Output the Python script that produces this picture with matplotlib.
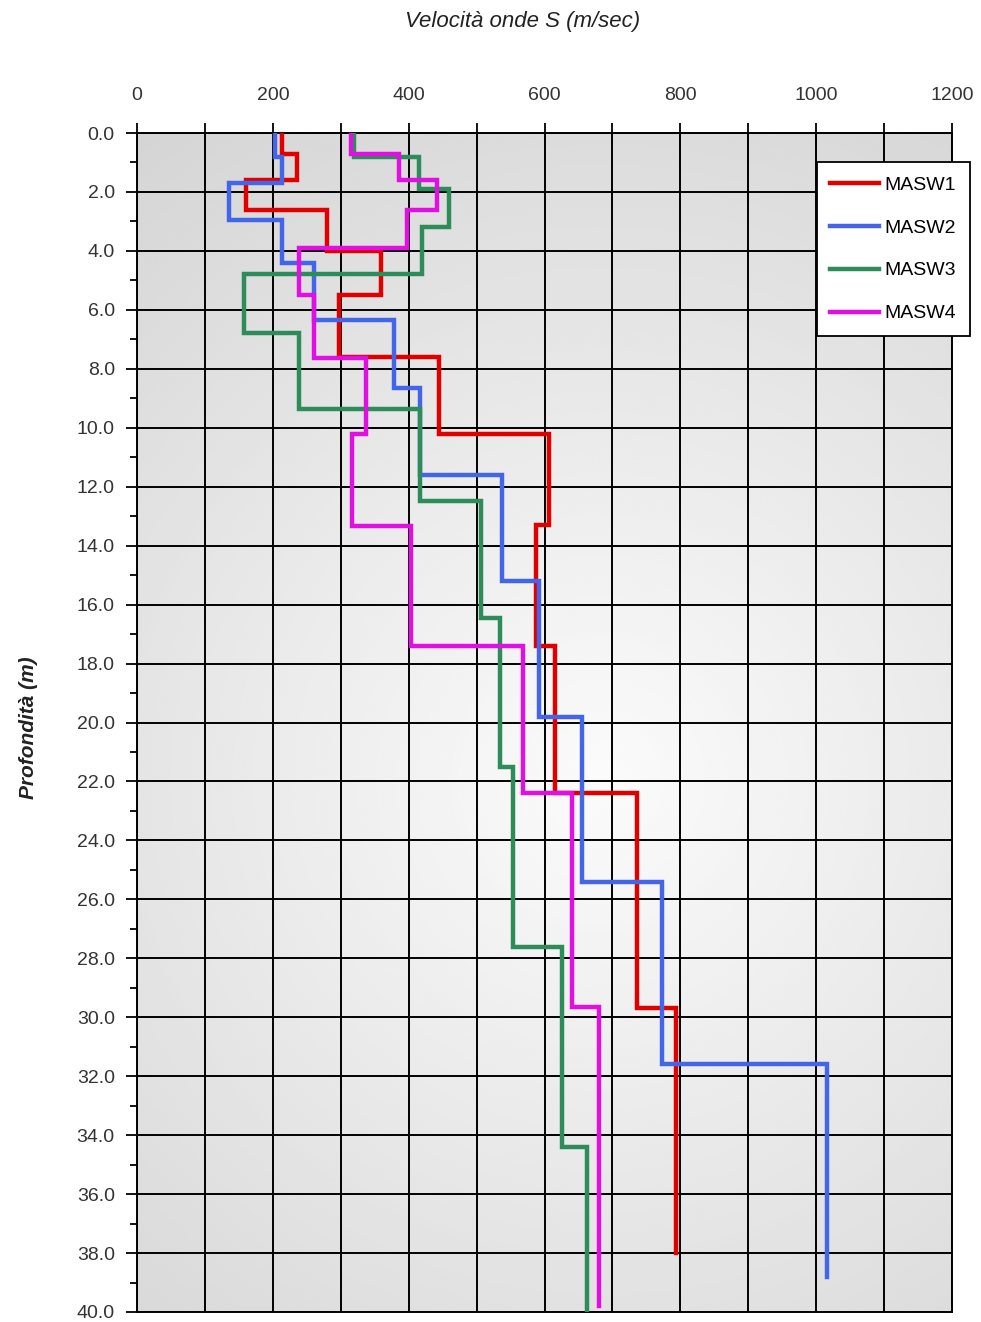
import numpy as np
import matplotlib
matplotlib.use("Agg")
import matplotlib.pyplot as plt
from matplotlib.ticker import MultipleLocator, FormatStrFormatter

plt.rcParams['font.family'] = ['Liberation Sans', 'DejaVu Sans']

# Shear-wave velocity profiles: layer boundaries (m) and layer velocities (m/s)
masw1_depth = [0.0, 0.7, 1.6, 2.6, 4.0, 5.5, 7.6, 10.2, 13.3, 17.4, 22.4, 29.7, 38.0]
masw1_vs = [214, 236, 160, 280, 359, 298, 445, 606, 587, 616, 736, 793]

masw2_depth = [0.0, 0.8, 1.7, 2.95, 4.4, 6.35, 8.65, 11.6, 15.2, 19.8, 25.4, 31.6, 38.8]
masw2_vs = [203, 213, 136, 214, 261, 378, 416, 538, 592, 655, 773, 1016]

masw3_depth = [0.0, 0.8, 1.9, 3.2, 4.8, 6.8, 9.35, 12.5, 16.45, 21.5, 27.6, 34.4, 40.0]
masw3_vs = [320, 415, 459, 420, 158, 239, 416, 506, 535, 554, 626, 663]

masw4_depth = [0.0, 0.7, 1.6, 2.6, 3.9, 5.5, 7.65, 10.2, 13.35, 17.4, 22.4, 29.65, 39.8]
masw4_vs = [315, 386, 441, 398, 239, 261, 337, 316, 404, 568, 640, 680]

series_names = ["MASW1", "MASW2", "MASW3", "MASW4"]
series_colors = ["#e00000", "#4466e6", "#2e8b5a", "#e010e0"]

x_ticks = [0, 200, 400, 600, 800, 1000, 1200]
y_ticks = np.arange(0, 41, 2)

fig = plt.figure(figsize=(9.81, 13.22), dpi=100)
ax = fig.add_axes([137 / 981, 1 - 1312 / 1322, (952 - 137) / 981, (1312 - 133) / 1322])

# soft radial grey background inside the plotting area
W, H = 815, 1179
gx, gy = np.meshgrid(np.linspace(0, W, 400), np.linspace(H, 0, 580))
cx, cy = 0.57 * W, 0.45 * H
r = np.hypot(gx - cx, gy - cy)
shade = np.clip(0.985 - 1.9e-4 * r, 0, 1)
ax.imshow(shade, extent=[0, 1, 0, 1], transform=ax.transAxes, cmap='gray',
          vmin=0, vmax=1, aspect='auto', zorder=0, interpolation='bicubic')

ax.set_xlim(0, 1200)
ax.set_ylim(40, 0)

ax.set_xticks(np.arange(0, 1201, 100))
ax.set_xticklabels([str(v) if v in x_ticks else "" for v in range(0, 1201, 100)])
ax.set_yticks(y_ticks)
ax.yaxis.set_major_formatter(FormatStrFormatter('%.1f'))
ax.yaxis.set_minor_locator(MultipleLocator(1))

ax.xaxis.tick_top()
ax.tick_params(axis='x', which='major', direction='out', length=7, width=1.3,
               pad=14, labelsize=14, labelcolor='#333333')
ax.tick_params(axis='y', which='major', direction='out', length=8, width=1.3,
               pad=8, labelsize=14, labelcolor='#333333')
ax.tick_params(axis='y', which='minor', direction='out', length=5, width=1.3)

ax.grid(True, which='major', color='black', linewidth=1.4, zorder=1)
ax.set_axisbelow(False)
for s in ax.spines.values():
    s.set_linewidth(1.4)
    s.set_color('black')

depths = [masw1_depth, masw2_depth, masw3_depth, masw4_depth]
vels = [masw1_vs, masw2_vs, masw3_vs, masw4_vs]
for d, v, name, col in zip(depths, vels, series_names, series_colors):
    d = np.asarray(d, dtype=float)
    v = np.asarray(v, dtype=float)
    xs = np.repeat(v, 2)
    ys = np.column_stack([d[:-1], d[1:]]).ravel()
    ax.plot(xs, ys, color=col, linewidth=3.2, label=name, zorder=3,
            solid_joinstyle='miter')

leg = ax.legend(loc='upper right', bbox_to_anchor=(1.022, 0.975), fontsize=14,
                frameon=True, fancybox=False, edgecolor='black', framealpha=1,
                handlelength=2.5, handletextpad=0.3, labelspacing=1.3,
                borderpad=0.7, borderaxespad=0)
leg.get_frame().set_linewidth(1.3)
leg.set_zorder(5)

fig.text(523 / 981, 1 - 22 / 1322, "Velocità onde S (m/sec)", ha='center', va='center',
         fontsize=16, style='italic', color='#222222')
fig.text(28 / 981, 1 - 728 / 1322, "Profondità (m)", ha='center', va='center',
         rotation=90, fontsize=15, style='italic', weight='bold', color='#222222')

fig.savefig("out.png", dpi=100)
